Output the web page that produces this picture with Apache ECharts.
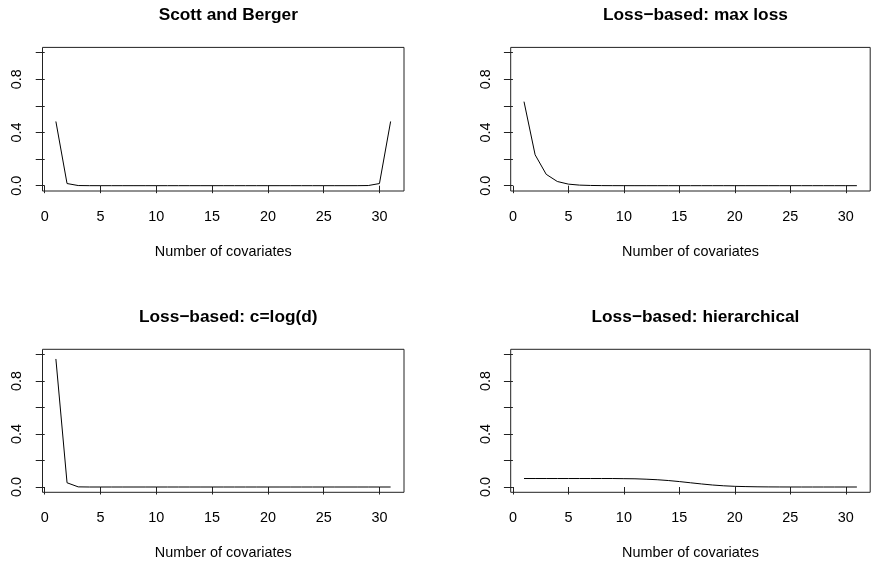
<!DOCTYPE html>
<html>
<head>
<meta charset="utf-8">
<script src="https://cdn.jsdelivr.net/npm/echarts@6/dist/echarts.min.js"></script>
<style>
html,body{margin:0;padding:0;background:#fff;}
#chart{width:878px;height:566px;}
</style>
</head>
<body>
<div id="chart"></div>
<script>
// Data
var covariates = [];
for (var i = 1; i <= 31; i++) covariates.push(i);

var scottBerger = [0.483, 0.0161, 0.0011, 0.0001, 0, 0, 0, 0, 0, 0, 0, 0, 0, 0, 0, 0,
                   0, 0, 0, 0, 0, 0, 0, 0, 0, 0, 0, 0.0001, 0.0011, 0.0161, 0.483];
var maxLoss = [0.632, 0.2325, 0.0855, 0.0315, 0.0116, 0.0043, 0.0016, 0.0006, 0.0002, 0.0001,
               0, 0, 0, 0, 0, 0, 0, 0, 0, 0, 0, 0, 0, 0, 0, 0, 0, 0, 0, 0, 0];
var logD = [0.967, 0.032, 0.001, 0, 0, 0, 0, 0, 0, 0, 0, 0, 0, 0, 0, 0,
            0, 0, 0, 0, 0, 0, 0, 0, 0, 0, 0, 0, 0, 0, 0];
var hierarchical = [0.064, 0.064, 0.064, 0.064, 0.064, 0.064, 0.064, 0.064, 0.064, 0.063,
                    0.062, 0.059, 0.055, 0.049, 0.041, 0.032, 0.023, 0.015, 0.009, 0.005,
                    0.003, 0.0015, 0.0007, 0.0003, 0.0001, 0, 0, 0, 0, 0, 0];

var titles = ['Scott and Berger', 'Loss\u2212based: max loss', 'Loss\u2212based: c=log(d)', 'Loss\u2212based: hierarchical'];
var seriesData = [scottBerger, maxLoss, logD, hierarchical];
var xTicks = [0, 5, 10, 15, 20, 25, 30];
var yTicks = [0, 0.2, 0.4, 0.6, 0.8, 1.0];
var yLabels = [0, 0.4, 0.8];
var xAxisTitle = 'Number of covariates';

var FONT = 'Liberation Sans, Arial, Helvetica, sans-serif';
var panels = [
  {left: 42.5, top: 47.4, width: 361.5, height: 143.6},
  {left: 510.7, top: 47.4, width: 359.5, height: 143.6},
  {left: 42.5, top: 349.3, width: 361.5, height: 143},
  {left: 510.7, top: 349.3, width: 359.5, height: 143}
];

var option = {
  animation: false,
  backgroundColor: '#fff',
  title: [], grid: [], xAxis: [], yAxis: [], series: []
};

panels.forEach(function (p, k) {
  option.title.push({
    text: titles[k],
    left: p.left + p.width / 2,
    top: p.top - 46,
    textAlign: 'center',
    textStyle: {fontFamily: FONT, fontSize: 17.3, fontWeight: 'bold', color: '#000'}
  });
  option.grid.push({
    left: p.left, top: p.top, width: p.width, height: p.height,
    show: true, borderColor: '#222', borderWidth: 1, backgroundColor: 'transparent'
  });
  option.xAxis.push({
    type: 'value', gridIndex: k, min: -0.2, max: 32.2,
    name: xAxisTitle, nameLocation: 'middle', nameGap: 54,
    nameTextStyle: {fontFamily: FONT, fontSize: 14.4, color: '#000'},
    axisLine: {show: false},
    splitLine: {show: false},
    axisTick: {show: true, length: 7.5, customValues: xTicks, lineStyle: {color: '#222'}},
    axisLabel: {customValues: xTicks, margin: 19, fontFamily: FONT, fontSize: 14.4, color: '#000'}
  });
  option.yAxis.push({
    type: 'value', gridIndex: k, min: -0.04, max: 1.04,
    axisLine: {show: false},
    splitLine: {show: false},
    axisTick: {show: true, length: 9, customValues: yTicks, lineStyle: {color: '#222'}},
    axisLabel: {customValues: yLabels, rotate: 90, margin: 18, fontFamily: FONT, fontSize: 14.4, color: '#000',
      formatter: function (v) { return Number(v).toFixed(1); }}
  });
  option.series.push({
    type: 'line', xAxisIndex: k, yAxisIndex: k,
    data: covariates.map(function (x, i) { return [x, seriesData[k][i]]; }),
    showSymbol: false, symbol: 'none',
    lineStyle: {color: '#000', width: 1}
  });
});

var chart = echarts.init(document.getElementById('chart'), null, {renderer: 'canvas'});
chart.setOption(option);
</script>
</body>
</html>
